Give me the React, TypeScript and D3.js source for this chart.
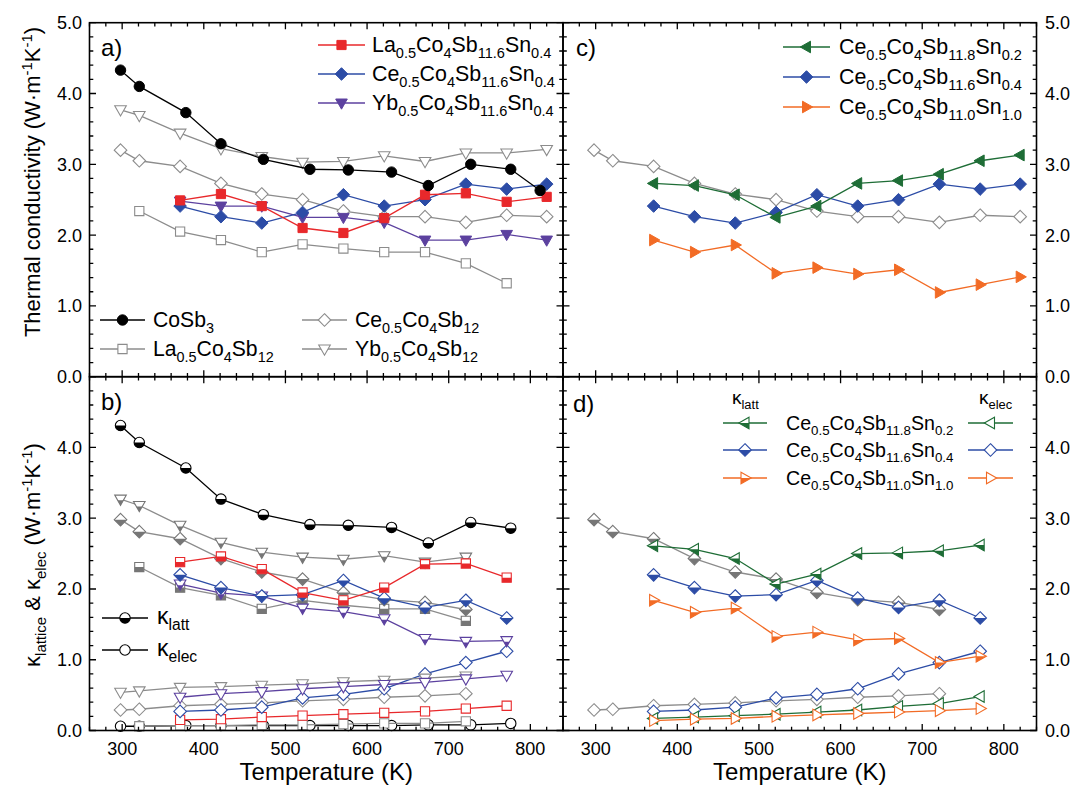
import React from 'react';
import * as d3 from 'd3';

// ---------- temperatures ----------
const tCo = [298, 321, 378, 421, 473, 530, 577, 630, 675, 727, 776, 812];
const tCoB = [298, 321, 378, 421, 473, 530, 577, 630, 675, 727, 776];
const tRef = [298, 321, 371, 421, 471, 521, 571, 621, 671, 721, 771, 820];
const tLa12 = [321, 371, 421, 471, 521, 571, 621, 671, 721, 771];
const tSn = [371, 421, 471, 521, 571, 621, 671, 721, 771, 820];
const tRefB = [298, 321, 371, 421, 471, 521, 571, 621, 671, 721];
const tLa12B = [321, 371, 421, 471, 521, 571, 621, 671, 721];
const tSnB = [371, 421, 471, 521, 571, 621, 671, 721, 771];

// ---------- panel a / c : total thermal conductivity ----------
const kCoSb3 = [4.33, 4.10, 3.73, 3.29, 3.07, 2.93, 2.92, 2.89, 2.70, 3.00, 2.93, 2.63];
const kLa12 = [2.34, 2.05, 1.93, 1.76, 1.87, 1.81, 1.76, 1.76, 1.60, 1.32];
const kCe12 = [3.20, 3.05, 2.97, 2.73, 2.58, 2.50, 2.34, 2.26, 2.26, 2.18, 2.28, 2.26];
const kYb12 = [3.77, 3.69, 3.44, 3.22, 3.11, 3.03, 3.04, 3.12, 3.04, 3.16, 3.16, 3.21];
const kLaSn04 = [2.49, 2.58, 2.41, 2.10, 2.03, 2.24, 2.57, 2.59, 2.47, 2.54];
const kCeSn04 = [2.41, 2.26, 2.17, 2.32, 2.57, 2.41, 2.50, 2.72, 2.65, 2.72];
const kYbSn04 = [2.48, 2.41, 2.41, 2.25, 2.25, 2.18, 1.93, 1.93, 2.01, 1.93];
const kCeSn02 = [2.73, 2.70, 2.57, 2.25, 2.41, 2.73, 2.77, 2.86, 3.05, 3.13];
const kCeSn10 = [1.93, 1.76, 1.86, 1.46, 1.54, 1.45, 1.51, 1.19, 1.30, 1.41];

// ---------- panel b / d : lattice & electronic ----------
const latCoSb3 = [4.31, 4.07, 3.71, 3.27, 3.05, 2.91, 2.90, 2.87, 2.65, 2.94, 2.86];
const eleCoSb3 = [0.06, 0.06, 0.07, 0.07, 0.07, 0.07, 0.07, 0.07, 0.08, 0.08, 0.10];
const latYb12 = [3.27, 3.18, 2.90, 2.66, 2.52, 2.45, 2.42, 2.47, 2.38, 2.45];
const eleYb12 = [0.54, 0.56, 0.61, 0.62, 0.64, 0.66, 0.69, 0.71, 0.74, 0.77];
const latCe12 = [2.98, 2.81, 2.71, 2.43, 2.24, 2.14, 1.95, 1.85, 1.81, 1.71];
const eleCe12 = [0.29, 0.30, 0.35, 0.37, 0.39, 0.42, 0.44, 0.47, 0.49, 0.52];
const latLa12 = [2.31, 2.02, 1.91, 1.72, 1.84, 1.77, 1.72, 1.72, 1.55];
const eleLa12 = [0.06, 0.07, 0.07, 0.08, 0.08, 0.09, 0.10, 0.10, 0.13];
const latLaSn04 = [2.38, 2.46, 2.28, 1.95, 1.84, 2.02, 2.35, 2.36, 2.16];
const eleLaSn04 = [0.15, 0.16, 0.19, 0.21, 0.23, 0.25, 0.27, 0.31, 0.35];
const latCeSn04 = [2.20, 2.02, 1.90, 1.92, 2.12, 1.87, 1.74, 1.84, 1.59];
const eleCeSn04 = [0.27, 0.29, 0.33, 0.46, 0.51, 0.59, 0.80, 0.96, 1.12];
const latYbSn04 = [2.07, 1.94, 1.90, 1.73, 1.68, 1.58, 1.30, 1.26, 1.27];
const eleYbSn04 = [0.47, 0.52, 0.55, 0.59, 0.62, 0.65, 0.68, 0.73, 0.78];
const latCeSn02 = [2.61, 2.56, 2.43, 2.07, 2.21, 2.50, 2.51, 2.54, 2.62];
const eleCeSn02 = [0.17, 0.19, 0.21, 0.23, 0.26, 0.29, 0.34, 0.38, 0.48];
const latCeSn10 = [1.84, 1.67, 1.73, 1.33, 1.39, 1.28, 1.30, 0.96, 1.05];
const eleCeSn10 = [0.14, 0.16, 0.17, 0.20, 0.22, 0.24, 0.26, 0.28, 0.31];

// ---------- labels ----------
const xTickLabels = [300, 400, 500, 600, 700, 800];
const yTopTicks = [0, 1, 2, 3, 4, 5];
const yBotTicks = [0, 1, 2, 3, 4];
const lblCoSb3 = 'CoSb_{3}';
const lblLa12 = 'La_{0.5}Co_{4}Sb_{12}';
const lblCe12 = 'Ce_{0.5}Co_{4}Sb_{12}';
const lblYb12 = 'Yb_{0.5}Co_{4}Sb_{12}';
const lblLaSn04 = 'La_{0.5}Co_{4}Sb_{11.6}Sn_{0.4}';
const lblCeSn04 = 'Ce_{0.5}Co_{4}Sb_{11.6}Sn_{0.4}';
const lblYbSn04 = 'Yb_{0.5}Co_{4}Sb_{11.6}Sn_{0.4}';
const lblCeSn02 = 'Ce_{0.5}Co_{4}Sb_{11.8}Sn_{0.2}';
const lblCeSn10 = 'Ce_{0.5}Co_{4}Sb_{11.0}Sn_{1.0}';

const FONT = "'Liberation Sans', Arial, Helvetica, sans-serif";
const RED = '#e8282b';
const BLUE = '#2c4ca6';
const PURPLE = '#5c419f';
const GREEN = '#1e6d36';
const ORANGE = '#f26b25';
const GRAY = '#8c8c8c';
const GRAYF = '#767676';
const BLACK = '#000';

const W = 1073, H = 787;
const X0 = 89.5, XM = 563, X1 = 1036.5;
const YT = 22.7, YM = 376.7, YB = 730.5;

const xA = d3.scaleLinear().domain([260, 840]).range([X0, XM]);
const xC = d3.scaleLinear().domain([260, 840]).range([XM, X1]);
const yTop = d3.scaleLinear().domain([0, 5]).range([YM, YT]);
const yBot = d3.scaleLinear().domain([0, 5]).range([YB, YM]);

type Shape = 'circle' | 'square' | 'diamond' | 'tdown' | 'tleft' | 'tright';
type Fill = 'full' | 'open' | 'half';

function shapePath(shape: Shape): string {
  switch (shape) {
    case 'circle': return d3.symbol(d3.symbolCircle, Math.PI * 5.2 * 5.2)() as string;
    case 'square': return 'M-4.6,-4.6L4.6,-4.6L4.6,4.6L-4.6,4.6Z';
    case 'diamond': return 'M0,-6.3L6.3,0L0,6.3L-6.3,0Z';
    case 'tdown': return 'M-5.8,-4L5.8,-4L0,6.2Z';
    case 'tleft': return 'M4,-5.8L4,5.8L-6.2,0Z';
    case 'tright': return 'M-4,-5.8L-4,5.8L6.2,0Z';
  }
}

function Marker({ x, y, shape, color, fill }: { x: number; y: number; shape: Shape; color: string; fill: Fill }) {
  const d = shapePath(shape);
  if (fill === 'full') return <path d={d} transform={`translate(${x},${y})`} fill={color} stroke={color} strokeWidth={1} />;
  if (fill === 'open') return <path d={d} transform={`translate(${x},${y})`} fill="#fff" stroke={color} strokeWidth={1.1} />;
  return (
    <g transform={`translate(${x},${y})`}>
      <path d={d} fill="#fff" stroke={color} strokeWidth={1.1} />
      <path d={d} fill={color} stroke="none" clipPath="url(#lowerHalf)" />
    </g>
  );
}

interface Series { t: number[]; v: number[]; shape: Shape; color: string; fill: Fill; line?: string }

function SeriesView({ s, x, y }: { s: Series; x: d3.ScaleLinear<number, number>; y: d3.ScaleLinear<number, number> }) {
  const line = d3.line<number>().x((_, i) => x(s.t[i])).y((d) => y(d));
  const mfill = s.fill === 'half' && s.color === GRAY ? GRAYF : s.color;
  return (
    <g>
      <path d={line(s.v) as string} fill="none" stroke={s.line || s.color} strokeWidth={1.3} />
      {s.v.map((v, i) => (
        <Marker key={i} x={x(s.t[i])} y={y(v)} shape={s.shape} color={s.fill === 'half' ? mfill : s.color} fill={s.fill} />
      ))}
    </g>
  );
}

function Rich({ x, y, str, size, anchor = 'start', rotate }: { x: number; y: number; str: string; size: number; anchor?: string; rotate?: number }) {
  const toks: { t: string; k: 'n' | 'sub' | 'sup' }[] = [];
  const re = /_\{([^}]*)\}|\^\{([^}]*)\}|([^_^]+)/g;
  let m: RegExpExecArray | null;
  while ((m = re.exec(str))) {
    if (m[1] !== undefined) toks.push({ t: m[1], k: 'sub' });
    else if (m[2] !== undefined) toks.push({ t: m[2], k: 'sup' });
    else toks.push({ t: m[3], k: 'n' });
  }
  let cur = 0;
  const small = size * 0.68;
  return (
    <text x={x} y={y} fontSize={size} fontFamily={FONT} textAnchor={anchor} fill="#000"
      transform={rotate ? `rotate(${rotate},${x},${y})` : undefined}>
      {toks.map((tk, i) => {
        const target = tk.k === 'sub' ? size * 0.28 : tk.k === 'sup' ? -size * 0.38 : 0;
        const dy = target - cur;
        cur = target;
        return (
          <tspan key={i} dy={dy} fontSize={tk.k === 'n' ? size : small}>{tk.t}</tspan>
        );
      })}
    </text>
  );
}

function Frame({ x, y, left, right, top, bottom }: { x: d3.ScaleLinear<number, number>; y: d3.ScaleLinear<number, number>; left: number; right: number; top: number; bottom: number }) {
  const majX = d3.range(300, 801, 100);
  const minX = d3.range(260, 841, 20).filter((v) => v % 100 !== 0);
  const majY = d3.range(0, 5.001, 1);
  const minY = d3.range(0, 5.001, 0.2).filter((v) => Math.abs(v - Math.round(v)) > 0.01);
  const M = 6.5, m = 3.8;
  const segs: string[] = [];
  majX.forEach((v) => { const px = x(v); segs.push(`M${px},${bottom}v${-M}`, `M${px},${top}v${M}`); });
  minX.forEach((v) => { const px = x(v); segs.push(`M${px},${bottom}v${-m}`, `M${px},${top}v${m}`); });
  majY.forEach((v) => { const py = y(v); segs.push(`M${left},${py}h${M}`, `M${right},${py}h${-M}`); });
  minY.forEach((v) => { const py = y(v); segs.push(`M${left},${py}h${m}`, `M${right},${py}h${-m}`); });
  return (
    <g>
      <path d={segs.join('')} stroke="#000" strokeWidth={1.3} fill="none" />
      <rect x={left} y={top} width={right - left} height={bottom - top} fill="none" stroke="#000" strokeWidth={1.6} />
    </g>
  );
}

function LegendRow({ x1, x2, y, shape, color, fill, lineColor }: { x1: number; x2: number; y: number; shape: Shape; color: string; fill: Fill; lineColor?: string }) {
  return (
    <g>
      <line x1={x1} x2={x2} y1={y} y2={y} stroke={lineColor || color} strokeWidth={1.3} />
      <Marker x={(x1 + x2) / 2} y={y} shape={shape} color={color} fill={fill} />
    </g>
  );
}

export default function App() {
  const panelA: Series[] = [
    { t: tRef, v: kCe12, shape: 'diamond', color: GRAY, fill: 'open' },
    { t: tRef, v: kYb12, shape: 'tdown', color: GRAY, fill: 'open' },
    { t: tLa12, v: kLa12, shape: 'square', color: GRAY, fill: 'open' },
    { t: tSn, v: kYbSn04, shape: 'tdown', color: PURPLE, fill: 'full' },
    { t: tSn, v: kCeSn04, shape: 'diamond', color: BLUE, fill: 'full' },
    { t: tSn, v: kLaSn04, shape: 'square', color: RED, fill: 'full' },
    { t: tCo, v: kCoSb3, shape: 'circle', color: BLACK, fill: 'full' },
  ];
  const panelC: Series[] = [
    { t: tRef, v: kCe12, shape: 'diamond', color: GRAY, fill: 'open' },
    { t: tSn, v: kCeSn10, shape: 'tright', color: ORANGE, fill: 'full' },
    { t: tSn, v: kCeSn04, shape: 'diamond', color: BLUE, fill: 'full' },
    { t: tSn, v: kCeSn02, shape: 'tleft', color: GREEN, fill: 'full' },
  ];
  const panelB: Series[] = [
    { t: tCoB, v: eleCoSb3, shape: 'circle', color: BLACK, fill: 'open' },
    { t: tLa12B, v: eleLa12, shape: 'square', color: GRAY, fill: 'open' },
    { t: tSnB, v: eleLaSn04, shape: 'square', color: RED, fill: 'open' },
    { t: tRefB, v: eleCe12, shape: 'diamond', color: GRAY, fill: 'open' },
    { t: tSnB, v: eleCeSn04, shape: 'diamond', color: BLUE, fill: 'open' },
    { t: tRefB, v: eleYb12, shape: 'tdown', color: GRAY, fill: 'open' },
    { t: tSnB, v: eleYbSn04, shape: 'tdown', color: PURPLE, fill: 'open' },
    { t: tLa12B, v: latLa12, shape: 'square', color: GRAY, fill: 'half' },
    { t: tRefB, v: latCe12, shape: 'diamond', color: GRAY, fill: 'half' },
    { t: tRefB, v: latYb12, shape: 'tdown', color: GRAY, fill: 'half' },
    { t: tSnB, v: latYbSn04, shape: 'tdown', color: PURPLE, fill: 'half' },
    { t: tSnB, v: latCeSn04, shape: 'diamond', color: BLUE, fill: 'half' },
    { t: tSnB, v: latLaSn04, shape: 'square', color: RED, fill: 'half' },
    { t: tCoB, v: latCoSb3, shape: 'circle', color: BLACK, fill: 'half' },
  ];
  const panelD: Series[] = [
    { t: tRefB, v: eleCe12, shape: 'diamond', color: GRAY, fill: 'open' },
    { t: tSnB, v: eleCeSn04, shape: 'diamond', color: BLUE, fill: 'open' },
    { t: tSnB, v: eleCeSn02, shape: 'tleft', color: GREEN, fill: 'open' },
    { t: tSnB, v: eleCeSn10, shape: 'tright', color: ORANGE, fill: 'open' },
    { t: tRefB, v: latCe12, shape: 'diamond', color: GRAY, fill: 'half' },
    { t: tSnB, v: latCeSn10, shape: 'tright', color: ORANGE, fill: 'half' },
    { t: tSnB, v: latCeSn04, shape: 'diamond', color: BLUE, fill: 'half' },
    { t: tSnB, v: latCeSn02, shape: 'tleft', color: GREEN, fill: 'half' },
  ];

  const lf = 21.4; // legend font (a top, c)
  const lfa = 21.2; // legend font (a bottom)
  const lfd = 19.6; // legend font (d)
  return (
    <svg width={W} height={H} style={{ position: 'absolute', left: 0, top: 0, background: '#fff' }}>
      <defs>
        <clipPath id="lowerHalf" clipPathUnits="objectBoundingBox">
          <rect x={-0.1} y={0.5} width={1.2} height={0.6} />
        </clipPath>
      </defs>
      <rect x={0} y={0} width={W} height={H} fill="#fff" />

      {/* data */}
      {panelA.map((s, i) => <SeriesView key={'a' + i} s={s} x={xA} y={yTop} />)}
      {panelC.map((s, i) => <SeriesView key={'c' + i} s={s} x={xC} y={yTop} />)}
      {panelB.map((s, i) => <SeriesView key={'b' + i} s={s} x={xA} y={yBot} />)}
      {panelD.map((s, i) => <SeriesView key={'d' + i} s={s} x={xC} y={yBot} />)}

      {/* frames */}
      <Frame x={xA} y={yTop} left={X0} right={XM} top={YT} bottom={YM} />
      <Frame x={xC} y={yTop} left={XM} right={X1} top={YT} bottom={YM} />
      <Frame x={xA} y={yBot} left={X0} right={XM} top={YM} bottom={YB} />
      <Frame x={xC} y={yBot} left={XM} right={X1} top={YM} bottom={YB} />

      {/* tick labels */}
      {xTickLabels.map((v) => (
        <g key={'xt' + v}>
          <text x={xA(v)} y={755} fontSize={18} fontFamily={FONT} textAnchor="middle">{v}</text>
          <text x={xC(v)} y={755} fontSize={18} fontFamily={FONT} textAnchor="middle">{v}</text>
        </g>
      ))}
      {yTopTicks.map((v) => (
        <g key={'yt' + v}>
          <text x={82} y={yTop(v) + 6.5} fontSize={18} fontFamily={FONT} textAnchor="end">{v.toFixed(1)}</text>
          <text x={1045} y={yTop(v) + 6.5} fontSize={18} fontFamily={FONT} textAnchor="start">{v.toFixed(1)}</text>
        </g>
      ))}
      {yBotTicks.map((v) => (
        <g key={'yb' + v}>
          <text x={82} y={yBot(v) + 6.5} fontSize={18} fontFamily={FONT} textAnchor="end">{v.toFixed(1)}</text>
          <text x={1045} y={yBot(v) + 6.5} fontSize={18} fontFamily={FONT} textAnchor="start">{v.toFixed(1)}</text>
        </g>
      ))}

      {/* axis titles */}
      <text x={(X0 + XM) / 2} y={780} fontSize={24} fontFamily={FONT} textAnchor="middle">Temperature (K)</text>
      <text x={(XM + X1) / 2} y={780} fontSize={24} fontFamily={FONT} textAnchor="middle">Temperature (K)</text>
      <Rich x={40} y={182} str={'Thermal conductivity (W·m^{-1}K^{-1})'} size={22} anchor="middle" rotate={-90} />
      <Rich x={40} y={555} str={'κ_{lattice} & κ_{elec} (W·m^{-1}K^{-1})'} size={22} anchor="middle" rotate={-90} />

      {/* panel labels */}
      <text x={101} y={56} fontSize={24} fontFamily={FONT}>a)</text>
      <text x={101} y={410} fontSize={24} fontFamily={FONT}>b)</text>
      <text x={576} y={56} fontSize={24} fontFamily={FONT}>c)</text>
      <text x={573} y={412} fontSize={24} fontFamily={FONT}>d)</text>

      {/* legend a (top) */}
      <LegendRow x1={318} x2={365} y={45} shape="square" color={RED} fill="full" />
      <LegendRow x1={318} x2={365} y={74} shape="diamond" color={BLUE} fill="full" />
      <LegendRow x1={318} x2={365} y={103} shape="tdown" color={PURPLE} fill="full" />
      <Rich x={372} y={52} str={lblLaSn04} size={lf} />
      <Rich x={372} y={81} str={lblCeSn04} size={lf} />
      <Rich x={372} y={110} str={lblYbSn04} size={lf} />

      {/* legend a (bottom) */}
      <LegendRow x1={100} x2={145} y={320} shape="circle" color={BLACK} fill="full" />
      <LegendRow x1={100} x2={145} y={349} shape="square" color={GRAY} fill="open" />
      <LegendRow x1={302} x2={347} y={320} shape="diamond" color={GRAY} fill="open" />
      <LegendRow x1={302} x2={347} y={349} shape="tdown" color={GRAY} fill="open" />
      <Rich x={153} y={327} str={lblCoSb3} size={lfa} />
      <Rich x={153} y={356} str={lblLa12} size={lfa} />
      <Rich x={355} y={327} str={lblCe12} size={lfa} />
      <Rich x={355} y={356} str={lblYb12} size={lfa} />

      {/* legend b */}
      <LegendRow x1={102} x2={148} y={618} shape="circle" color={BLACK} fill="half" />
      <LegendRow x1={102} x2={148} y={650} shape="circle" color={BLACK} fill="open" />
      <Rich x={157} y={624} str={'κ_{latt}'} size={23} />
      <Rich x={157} y={656} str={'κ_{elec}'} size={23} />

      {/* legend c */}
      <LegendRow x1={783} x2={830} y={47} shape="tleft" color={GREEN} fill="full" />
      <LegendRow x1={783} x2={830} y={77} shape="diamond" color={BLUE} fill="full" />
      <LegendRow x1={783} x2={830} y={107} shape="tright" color={ORANGE} fill="full" />
      <Rich x={839} y={54} str={lblCeSn02} size={lf} />
      <Rich x={839} y={84} str={lblCeSn04} size={lf} />
      <Rich x={839} y={114} str={lblCeSn10} size={lf} />

      {/* legend d */}
      <Rich x={732} y={404} str={'κ_{latt}'} size={19} />
      <Rich x={979} y={404} str={'κ_{elec}'} size={19} />
      <LegendRow x1={723} x2={767} y={423} shape="tleft" color={GREEN} fill="half" />
      <LegendRow x1={723} x2={767} y={450} shape="diamond" color={BLUE} fill="half" />
      <LegendRow x1={723} x2={767} y={478} shape="tright" color={ORANGE} fill="half" />
      <LegendRow x1={968} x2={1013} y={423} shape="tleft" color={GREEN} fill="open" />
      <LegendRow x1={968} x2={1013} y={450} shape="diamond" color={BLUE} fill="open" />
      <LegendRow x1={968} x2={1013} y={478} shape="tright" color={ORANGE} fill="open" />
      <Rich x={786} y={430} str={lblCeSn02} size={lfd} />
      <Rich x={786} y={457} str={lblCeSn04} size={lfd} />
      <Rich x={786} y={485} str={lblCeSn10} size={lfd} />
    </svg>
  );
}
